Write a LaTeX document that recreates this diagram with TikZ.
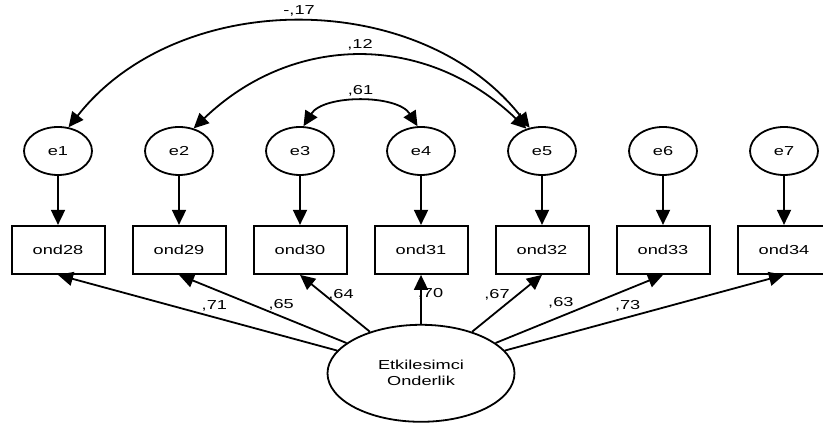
\documentclass[tikz,border=0pt]{standalone}
\usepackage{fontspec}
\setmainfont{Liberation Sans}
\usepackage{graphicx}
\usepackage{tikz}
\usetikzlibrary{positioning,shapes.geometric,arrows.meta}
\newcommand{\wtxt}[1]{\scalebox{1.4}[1]{#1}}
\tikzset{errv/.style={ellipse,draw,line width=0.9pt,minimum width=34pt,minimum height=24pt,inner sep=0pt},
	 obsv/.style={rectangle,draw,line width=1pt,minimum width=46.5pt,minimum height=24pt,inner sep=0pt},
	 latv/.style={ellipse,draw,line width=0.9pt,minimum width=93.5pt,minimum height=48.5pt,inner sep=0pt,align=center},
	 load/.style={line width=0.9pt,-{Triangle[length=7.5pt,width=7pt]}},
	 cov/.style={line width=0.9pt,{Triangle[length=7.5pt,width=7pt]}-{Triangle[length=7.5pt,width=7pt]}},
	 coef/.style={inner sep=2.5pt},
	 node distance = 24.5pt and 25.6pt
	 }
\begin{document}
\begin{tikzpicture}[font=\fontsize{6.5pt}{8pt}\selectfont]% one factor model
        \useasboundingbox (-29pt,75.5pt) rectangle (382.5pt,-137.5pt);
        \node[errv] (e1) {\wtxt{e1}};
        \node[errv] (e2) [right=of e1] {\wtxt{e2}};
        \node[errv] (e3) [right=of e2] {\wtxt{e3}};
        \node[errv] (e4) [right=of e3] {\wtxt{e4}};
        \node[errv] (e5) [right=of e4] {\wtxt{e5}};
        \node[errv] (e6) [right=of e5] {\wtxt{e6}};
        \node[errv] (e7) [right=of e6] {\wtxt{e7}};
        \node[obsv] (o28) [below=of e1] {\wtxt{ond28}};
        \node[obsv] (o29) [below=of e2] {\wtxt{ond29}};
        \node[obsv] (o30) [below=of e3] {\wtxt{ond30}};
        \node[obsv] (o31) [below=of e4] {\wtxt{ond31}};
        \node[obsv] (o32) [below=of e5] {\wtxt{ond32}};
        \node[obsv] (o33) [below=of e6] {\wtxt{ond33}};
        \node[obsv] (o34) [below=of e7] {\wtxt{ond34}};
        \node[latv] (etk) [below=of o31] {\wtxt{Etkilesimci}\\\wtxt{Onderlik}};
        \foreach \e/\o in {e1/o28,e2/o29,e3/o30,e4/o31,e5/o32,e6/o33,e7/o34}
          \draw[load] (\e.south) -- (\o.north);
        \draw[load] (etk) -- (o28.south) node[coef,pos=0.44,above] {\wtxt{,71}};
        \draw[load] (etk) -- (o29.south) node[coef,pos=0.39,above] {\wtxt{,65}};
        \draw[load] (etk) -- (o30.south) node[coef,pos=0.65,right=-1pt] {\wtxt{,64}};
        \draw[load] (etk) -- (o31.south) node[coef,pos=0.62,right=-4.5pt] {\wtxt{,70}};
        \draw[load] (etk) -- (o32.south) node[coef,pos=0.65,left=1pt] {\wtxt{,67}};
        \draw[load] (etk) -- (o33.south) node[coef,pos=0.39,above=1pt] {\wtxt{,63}};
        \draw[load] (etk) -- (o34.south) node[coef,pos=0.44,above] {\wtxt{,73}};
        \draw[cov] (e1.66) .. controls +(55pt,70pt) and +(-55pt,70pt) .. (e5.118) node[coef,midway,above] {\wtxt{-,17}};
        \draw[cov] (e2.57) .. controls +(50pt,48pt) and +(-50pt,48pt) .. (e5.125) node[coef,midway,above] {\wtxt{,12}};
        \draw[cov] (e3.82) .. controls +(10pt,16pt) and +(-10pt,16pt) .. (e4.98) node[coef,midway,above] {\wtxt{,61}};
     \end{tikzpicture}
\end{document}
